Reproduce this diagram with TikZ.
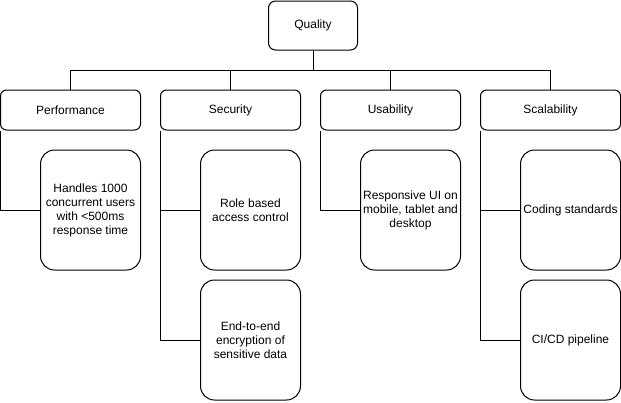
\documentclass[tikz,border=0pt]{standalone}
\usepackage{fontspec}
\setmainfont{Liberation Sans}
\usepackage{tikz}
\usetikzlibrary{positioning}

\begin{document}
\begin{tikzpicture}[x=1pt, y=-1pt, line width=1pt,
  every node/.style = {shape=rectangle, draw, align=center,
    font=\fontsize{12}{14}\selectfont, inner sep=0pt},
  topbox/.style = {minimum width=89pt, minimum height=49pt, rounded corners=7pt},
  branch/.style = {minimum width=140pt, minimum height=40pt, rounded corners=6pt},
  leaf/.style = {minimum width=100pt, minimum height=120pt, rounded corners=14pt},
  edge/.style = {draw, line width=0.9pt}
  ]
  \useasboundingbox (0,0) rectangle (621,402);
  % root
  \node[topbox] (quality) at (313,25.5) {Quality};
  % categories
  \node[branch] (perf) at (70.5,110) {Performance};
  \node[branch] (sec) at (230.5,110) {Security};
  \node[branch] (usab) at (390.5,110) {Usability};
  \node[branch] (scal) at (550.5,110) {Scalability};
  % requirements
  \node[leaf] (handles) at (90.5,210) {Handles 1000\\concurrent users\\with <500ms\\response time};
  \node[leaf] (role) at (250.5,210) {Role based\\access control};
  \node[leaf] (encrypt) at (250.5,340) {End-to-end\\encryption of\\sensitive data};
  \node[leaf] (resp) at (410.5,210) {Responsive UI on\\mobile, tablet and\\desktop};
  \node[leaf] (coding) at (570.5,210) {Coding standards};
  \node[leaf] (cicd) at (570.5,340) {CI/CD pipeline};

  \foreach \cat in {perf,sec,usab,scal}
    \draw[edge] (quality.south) -- ++(0,20) -| (\cat.north);

  \draw[edge] (perf.south west) |- (handles.west);
  \draw[edge] (sec.south west) |- (role.west);
  \draw[edge] (sec.south west) |- (encrypt.west);
  \draw[edge] (usab.south west) |- (resp.west);
  \draw[edge] (scal.south west) |- (coding.west);
  \draw[edge] (scal.south west) |- (cicd.west);
\end{tikzpicture}
\end{document}
